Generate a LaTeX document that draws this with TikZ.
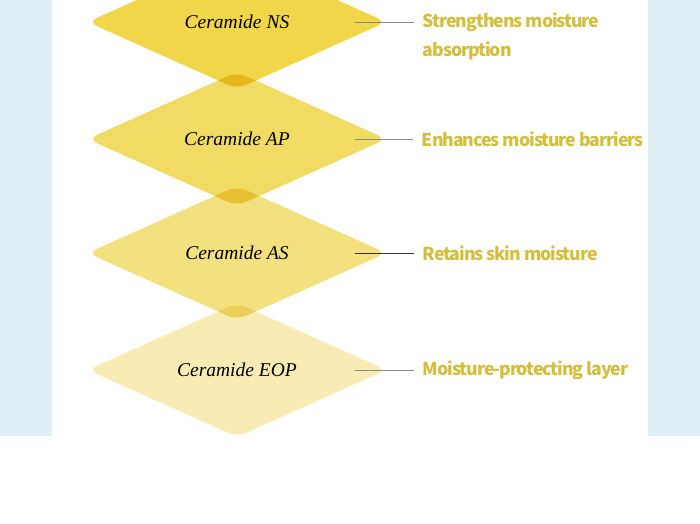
\documentclass[tikz,border=0pt]{standalone}
\usepackage{fontspec}
\newfontfamily\effectfont{Noto Sans CJK KR}[LetterSpace=-6]
\newfontfamily\ceramidefont{Liberation Serif}
\usetikzlibrary{shapes.geometric,positioning}
\definecolor{panel}{HTML}{E0EEF5}
\definecolor{nsfill}{HTML}{F2D64A}
\definecolor{apfill}{HTML}{F2DB62}
\definecolor{asfill}{HTML}{F3E07E}
\definecolor{eopfill}{HTML}{F8EBB4}
\definecolor{effecttext}{HTML}{D3BE3E}
\definecolor{tiegray}{HTML}{8A8A8A}
\begin{document}
\begin{tikzpicture}[x=1pt,y=-1pt,
  ceramide/.style={diamond,minimum width=299pt,minimum height=134pt,inner sep=0pt,
    rounded corners=10pt,font=\ceramidefont\itshape\fontsize{19.5}{22}\selectfont},
  effect/.style={inner sep=0pt,align=left,text=effecttext,
    font=\effectfont\bfseries\fontsize{17.7}{29}\selectfont},
  tie/.style={draw=tiegray,line width=0.8pt,shorten >=9pt}]
\useasboundingbox (0,0) rectangle (700,523);
\clip (0,0) rectangle (700,523);
\fill[panel] (0,0) rectangle (52,436);
\fill[panel] (648,0) rectangle (700,436);

\begin{scope}[blend mode=multiply]
\node[ceramide,fill=nsfill] (ns) at (237,22) {Ceramide NS};
\node[ceramide,fill=apfill] (ap) at (237,139) {Ceramide AP};
\node[ceramide,fill=asfill] (as) at (237,253) {Ceramide AS};
\node[ceramide,fill=eopfill] (eop) at (237,370) {Ceramide EOP};
\end{scope}

\coordinate (nstie) at ([xshift=-32pt]ns.east);
\coordinate (aptie) at ([xshift=-32pt]ap.east);
\coordinate (astie) at ([xshift=-32pt]as.east);
\coordinate (eoptie) at ([xshift=-32pt]eop.east);

\node[effect,right=68pt of nstie,yshift=-14.5pt] (nsfx) {Strengthens moisture\\absorption};
\node[effect,right=67pt of aptie] (apfx) {Enhances moisture barriers};
\node[effect,right=68pt of astie] (asfx) {Retains skin moisture};
\node[effect,right=68pt of eoptie] (eopfx) {Moisture-protecting layer};

\draw[tie] (nstie) -- (nstie -| nsfx.west);
\draw[tie] (aptie) -- (apfx.west);
\draw[tie,draw=black!80] (astie) -- (asfx.west);
\draw[tie] (eoptie) -- (eopfx.west);
\end{tikzpicture}
\end{document}
